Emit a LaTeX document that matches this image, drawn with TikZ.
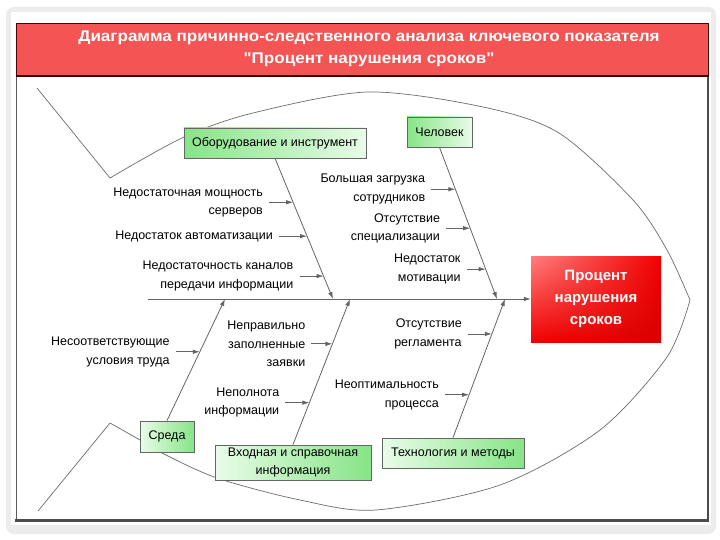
\documentclass[tikz,border=0pt]{standalone}
\usepackage{fontspec}
\setmainfont{Liberation Sans}[Ligatures = TeXOff]
\newfontfamily\titlefont{Liberation Sans}[Ligatures = TeXOff, FakeStretch = 1.1]
\usepackage{tikz}
\usetikzlibrary{arrows, arrows.meta, positioning, shadings}
\usepackage{xcolor}
\definecolor{titlered}{RGB}{245,84,84}
\definecolor{boxgreen}{RGB}{135,228,135}
\definecolor{palegreen}{RGB}{232,252,232}
\definecolor{linegray}{RGB}{100,100,100}

\begin{document}
\begin{tikzpicture}[x = 1pt, y = -1pt,
  bone/.style = {->, >={Latex[length = 7pt, width = 4.5pt]}, draw = linegray, line width = 0.8pt},
  fish/.style = {draw = gray!85!black, line width = 0.7pt},
  cause/.style = {align = right, font = \fontsize{12.5}{18.5}\selectfont, inner xsep = 6pt, inner ysep = 0pt},
  cat/.style = {draw = gray!80!black, line width = 0.8pt, font = \fontsize{12.5}{18.5}\selectfont, align = center, inner sep = 0pt},
  upcat/.style = {cat, left color = boxgreen, right color = palegreen},
  lowcat/.style = {cat, left color = palegreen, right color = boxgreen}]
\fill[white] (0, 0) rectangle (720, 540) ;
\fill[gray!15, rounded corners = 8pt] (6, 7) rectangle (716, 534) ;
\fill[white] (11, 12) rectangle (711, 525) ;
\fill[titlered] (16, 23) rectangle (708, 77) ;
\draw[black!70!red, line width = 0.8pt] (16, 77) -- (16, 23) -- (708, 23) -- (708, 77) ;
\draw[black!80!red, line width = 2.5pt] (16, 76) -- (708, 76) ;
\draw[gray!70!black, line width = 1pt] (16, 77) -- (16, 520) ;
\draw[gray!60!black, line width = 2pt] (708, 77) -- (708, 520) ;
\draw[gray!60!black, line width = 3pt] (15, 520) -- (709, 520) ;
\node(title) at (369, 49) [text = white, font = \titlefont\bfseries\fontsize{15.5}{22}\selectfont, align = center] {Диаграмма причинно-следственного анализа ключевого показателя\\"Процент нарушения сроков"} ;
\draw[fish] (37, 88) -- plot[smooth] coordinates {(110, 178) (184, 137) (253, 113) (368, 92) (483, 107) (559, 133) (633, 200) (667, 250) (690, 300)} ;
\draw[fish] (38, 511) -- plot[smooth] coordinates {(110, 423) (140, 440) (160, 452) (217, 478) (300, 500) (376, 510) (500, 485) (600, 430) (667, 357) (690, 300)} ;
\node(equip) at (275, 143) [upcat, minimum width = 182pt, minimum height = 30pt] {Оборудование и инструмент} ;
\node(staff) at (439.5, 132) [upcat, minimum width = 65pt, minimum height = 30pt] {Человек} ;
\node(env) at (167, 436.5) [lowcat, minimum width = 54pt, minimum height = 31pt] {Среда} ;
\node(info) at (293, 462.5) [lowcat, minimum width = 156pt, minimum height = 35pt] {Входная и справочная\\информация} ;
\node(tech) at (453, 453) [lowcat, minimum width = 142pt, minimum height = 30pt] {Технология и методы} ;
\node(kpi) at (596, 299) [upper left = red!50!white, upper right = red!95!black, lower left = red!95!black, lower right = red!85!black, minimum width = 130pt, minimum height = 86pt, text = white, font = \bfseries\fontsize{15}{22}\selectfont, align = center] {Процент\\нарушения\\сроков} ;
\coordinate(tail) at (148, 299) ;
\coordinate(s1) at (333, 299) ;
\coordinate(s2) at (497, 299) ;
\coordinate(s3) at (225, 299) ;
\coordinate(s4) at (350, 299) ;
\coordinate(s5) at (505, 299) ;
\draw[bone] (tail) -- (kpi) ;
\draw[bone] (equip.south) -- (s1) ;
\draw[bone] (staff.south) -- (s2) ;
\draw[bone] (env.north) -- (s3) ;
\draw[bone] (info.north) -- (s4) ;
\draw[bone] (tech.north) -- (s5) ;
\path (equip.south) -- (s1) coordinate[pos = 0.312] (b11) coordinate[pos = 0.553] (b12) coordinate[pos = 0.837] (b13) ;
\path (staff.south) -- (s2) coordinate[pos = 0.276] (b21) coordinate[pos = 0.533] (b22) coordinate[pos = 0.803] (b23) ;
\path (env.north) -- (s3) coordinate[pos = 0.566] (b31) ;
\path (info.north) -- (s4) coordinate[pos = 0.692] (b41) coordinate[pos = 0.288] (b42) ;
\path (tech.north) -- (s5) coordinate[pos = 0.748] (b51) coordinate[pos = 0.309] (b52) ;
\node(c11) [cause, left = 24pt of b11] {Недостаточная мощность\\серверов} ;
\node(c12) [cause, left = 28pt of b12] {Недостаток автоматизации} ;
\node(c13) [cause, left = 24pt of b13] {Недостаточность каналов\\передачи информации} ;
\node(c21) [cause, left = 24pt of b21] {Большая загрузка\\сотрудников} ;
\node(c22) [cause, left = 24pt of b22] {Отсутствие\\специализации} ;
\node(c23) [cause, left = 19pt of b23] {Недостаток\\мотивации} ;
\node(c31) [cause, left = 24pt of b31] {Несоответствующие\\условия труда} ;
\node(c41) [cause, left = 21pt of b41] {Неправильно\\заполненные\\заявки} ;
\node(c42) [cause, left = 24pt of b42] {Неполнота\\информации} ;
\node(c51) [cause, left = 24pt of b51] {Отсутствие\\регламента} ;
\node(c52) [cause, left = 24pt of b52] {Неоптимальность\\процесса} ;
\draw[bone] (c11) -- (b11) ;
\draw[bone] (c12) -- (b12) ;
\draw[bone] (c13) -- (b13) ;
\draw[bone] (c21) -- (b21) ;
\draw[bone] (c22) -- (b22) ;
\draw[bone] (c23) -- (b23) ;
\draw[bone] (c31) -- (b31) ;
\draw[bone] (c41) -- (b41) ;
\draw[bone] (c42) -- (b42) ;
\draw[bone] (c51) -- (b51) ;
\draw[bone] (c52) -- (b52) ;
\end{tikzpicture}
\end{document}
